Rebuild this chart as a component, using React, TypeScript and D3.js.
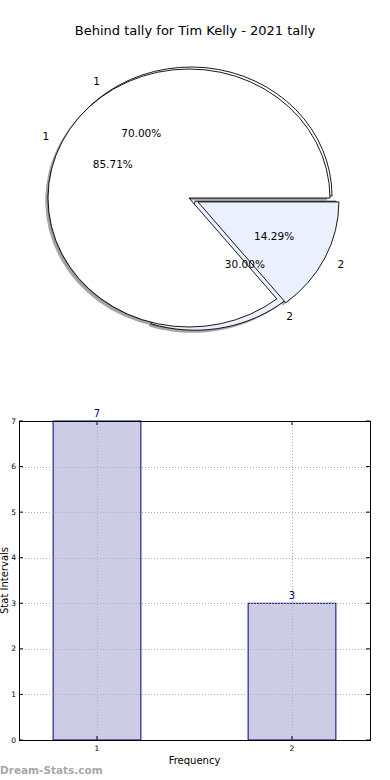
import React from "react";
import * as d3 from "d3";

const title = "Behind tally for Tim Kelly - 2021 tally";
const pieLabels = ["1", "2"];
const outerPieValues = [70.0, 30.0];
const innerPieValues = [85.71, 14.29];
const outerExplode = [0, 0.05];
const innerExplode = [0, 0.07];
const pieColors = ["#ffffff", "#eaf0fd"];

const barCategories = [1, 2];
const barValues = [7, 3];
const yTicks = [0, 1, 2, 3, 4, 5, 6, 7];

const W = 390;
const H = 780;
const RX = 141;
const RY = 129;
const FONT = "DejaVu Sans, sans-serif";

type PieSpec = { cx: number; cy: number; values: number[]; explode: number[] };

function pieParts(spec: PieSpec) {
  const pie = d3
    .pie<number>()
    .sort(null)
    .value((d) => d)
    .startAngle(Math.PI / 2)
    .endAngle(Math.PI / 2 - 2 * Math.PI);
  const arcs = pie(spec.values);
  const total = d3.sum(spec.values);
  return arcs.map((a, i) => {
    const mid = (a.startAngle + a.endAngle) / 2;
    const ux = Math.sin(mid);
    const uy = -Math.cos(mid);
    const e = spec.explode[i] || 0;
    const ox = ux * e * RX;
    const oy = uy * e * RY;
    return { arc: a, i, mid, ux, uy, ox, oy, pct: (spec.values[i] / total) * 100 };
  });
}

const arcGen = d3.arc<d3.PieArcDatum<number>>().innerRadius(0).outerRadius(RY);

function Wedges({ spec, shadow }: { spec: PieSpec; shadow: boolean }) {
  const parts = pieParts(spec);
  return (
    <g>
      {parts.map((p) => {
        const sx = shadow ? -2.8 : 0;
        const sy = shadow ? 2.6 : 0;
        const tr = `translate(${spec.cx + p.ox + sx},${spec.cy + p.oy + sy}) scale(${RX / RY},1)`;
        return (
          <path
            key={p.i}
            d={arcGen(p.arc) || ""}
            transform={tr}
            fill={shadow ? "#4d4d4d" : pieColors[p.i]}
            fillOpacity={shadow ? 0.5 : 1}
            stroke={shadow ? "none" : "#000"}
            strokeWidth={shadow ? 0 : 0.9}
            strokeLinejoin="miter"
            vectorEffect="non-scaling-stroke"
          />
        );
      })}
    </g>
  );
}

function PieTexts({ spec }: { spec: PieSpec }) {
  const parts = pieParts(spec);
  return (
    <g fontFamily={FONT} fontSize={10.5} fill="#000">
      {parts.map((p) => {
        const bx = spec.cx + p.ox;
        const by = spec.cy + p.oy;
        const lx = bx + p.ux * 1.1 * RX;
        const ly = by + p.uy * 1.1 * RY;
        const px = bx + p.ux * 0.6 * RX;
        const py = by + p.uy * 0.6 * RY;
        return (
          <g key={p.i}>
            <text x={lx} y={ly} textAnchor={p.ux < 0 ? "end" : "start"} dominantBaseline="central">
              {pieLabels[p.i]}
            </text>
            <text x={px} y={py} textAnchor="middle" dominantBaseline="central">
              {p.pct.toFixed(2) + "%"}
            </text>
          </g>
        );
      })}
    </g>
  );
}

export default function App() {
  const outerSpec: PieSpec = { cx: 191, cy: 196, values: outerPieValues, explode: outerExplode };
  const innerSpec: PieSpec = { cx: 189, cy: 198, values: innerPieValues, explode: innerExplode };

  const left = 19;
  const right = 370;
  const top = 421;
  const bottom = 740;
  const x = d3.scaleLinear().domain([0.6, 2.4]).range([left, right]);
  const y = d3.scaleLinear().domain([0, 7]).range([bottom, top]);
  const barW = 0.45;

  return (
    <svg
      width={W}
      height={H}
      style={{ position: "absolute", left: 0, top: 0, background: "#fff" }}
      fontFamily={FONT}
    >
      <rect x={0} y={0} width={W} height={H} fill="#fff" />
      <text x={195} y={30} textAnchor="middle" dominantBaseline="central" fontSize={13} fill="#000">
        {title}
      </text>

      {/* shadows drawn below all wedges */}
      <Wedges spec={outerSpec} shadow={true} />
      <Wedges spec={innerSpec} shadow={true} />
      <Wedges spec={outerSpec} shadow={false} />
      <Wedges spec={innerSpec} shadow={false} />
      <PieTexts spec={outerSpec} />
      <PieTexts spec={innerSpec} />

      {/* bar chart */}
      <g>
        {barCategories.map((c, i) => (
          <rect
            key={"bar" + c}
            x={x(c - barW / 2)}
            y={y(barValues[i])}
            width={x(c + barW / 2) - x(c - barW / 2)}
            height={y(0) - y(barValues[i])}
            fill="#ccccE5"
            stroke="#000080"
            strokeWidth={1}
          />
        ))}
        {yTicks.slice(1, -1).map((t) => (
          <line
            key={"gy" + t}
            x1={left}
            x2={right}
            y1={Math.round(y(t)) + 0.5}
            y2={Math.round(y(t)) + 0.5}
            stroke="#b0b0b0"
            strokeDasharray="1,2"
            strokeWidth={1}
          />
        ))}
        {barCategories.map((c) => (
          <line
            key={"gx" + c}
            x1={Math.round(x(c)) + 0.5}
            x2={Math.round(x(c)) + 0.5}
            y1={top}
            y2={bottom}
            stroke="#b0b0b0"
            strokeDasharray="1,2"
            strokeWidth={1}
          />
        ))}
        <rect x={left + 0.5} y={top + 0.5} width={right - left} height={bottom - top} fill="none" stroke="#000" strokeWidth={1} />
        {yTicks.map((t) => (
          <g key={"ty" + t}>
            <line x1={left} x2={left + 4} y1={y(t)} y2={y(t)} stroke="#000" />
            <line x1={right - 4} x2={right} y1={y(t)} y2={y(t)} stroke="#000" />
            <text x={left - 3} y={y(t)} textAnchor="end" dominantBaseline="central" fontSize={7.5} fill="#000">
              {t}
            </text>
          </g>
        ))}
        {barCategories.map((c) => (
          <g key={"tx" + c}>
            <line x1={x(c)} x2={x(c)} y1={bottom} y2={bottom - 4} stroke="#000" />
            <line x1={x(c)} x2={x(c)} y1={top} y2={top + 4} stroke="#000" />
            <text x={x(c)} y={bottom + 8} textAnchor="middle" dominantBaseline="central" fontSize={7.5} fill="#000">
              {c}
            </text>
          </g>
        ))}
        {barCategories.map((c, i) => (
          <text
            key={"v" + c}
            x={x(c)}
            y={y(barValues[i]) - 8}
            textAnchor="middle"
            dominantBaseline="central"
            fontSize={10}
            fill="#000080"
          >
            {barValues[i]}
          </text>
        ))}
        <text x={(left + right) / 2} y={760} textAnchor="middle" dominantBaseline="central" fontSize={10} fill="#000">
          Frequency
        </text>
        <text
          transform={`translate(4,${(top + bottom) / 2}) rotate(-90)`}
          textAnchor="middle"
          dominantBaseline="central"
          fontSize={10}
          fill="#000"
        >
          Stat Intervals
        </text>
        <text x={0} y={770} dominantBaseline="central" fontSize={10.5} fontWeight="bold" fill="#a8a8a8">
          Dream-Stats.com
        </text>
      </g>
    </svg>
  );
}
